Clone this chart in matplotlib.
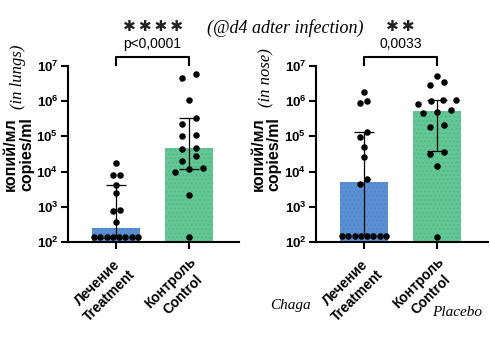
import matplotlib
matplotlib.use("Agg")
import matplotlib.pyplot as plt
import numpy as np

# ---- data (copies/ml) ----
groups = ["Лечение\nTreatment", "Контроль\nControl"]

lung_treatment = [1.8e4, 8.3e3, 8.3e3, 4.2e3, 2.5e3, 820, 770, 380,
                  140, 140, 140, 140, 140, 140, 140, 140]
lung_control = [5.8e6, 4.4e6, 1.07e6, 3.2e5, 2.3e5, 1.1e5, 1.0e5, 4.8e4,
                4.3e4, 2.8e4, 2.0e4, 1.3e4, 1.2e4, 1.0e4, 2.2e3, 140]
lung_bar = [250, 4.6e4]
lung_err_low = [140, 1.2e4]
lung_err_high = [4.2e3, 3.2e5]

nose_treatment = [1.8e6, 1.0e6, 8.9e5, 1.3e5, 9.8e4, 5.1e4, 2.6e4, 6.0e3, 4.4e3,
                  150, 150, 150, 150, 150, 150, 150, 150]
nose_control = [5.2e6, 3.4e6, 2.8e6, 1.1e6, 1.07e6, 1.0e6, 8.5e5, 5.5e5,
                5.0e5, 4.5e5, 2.1e5, 1.8e5, 3.6e4, 3.1e4, 1.45e4, 145]
nose_bar = [5.0e3, 5.2e5]
nose_err_low = [150, 3.8e4]
nose_err_high = [1.3e5, 1.07e6]

p_labels = ["p<0,0001", "0,0033"]
stars = ["\u2009".join("✱" * 4), "\u2009".join("✱" * 2)]
site_notes = ["(in lungs)", "(in nose)"]

BLUE = "#5b8fd3"
GREEN = "#62c794"
HAND = {"family": "Liberation Serif", "style": "italic"}

plt.rcParams["font.family"] = ["Liberation Sans", "DejaVu Sans"]
plt.rcParams["font.weight"] = "bold"
plt.rcParams["hatch.linewidth"] = 0.6


def swarm_x(ax, values, center, step_px, span_px=50, diam_px=6.5):
    """Spread points that sit on the same row sideways, GraphPad style."""
    values = np.asarray(values, dtype=float)
    pts = np.column_stack([np.full(len(values), center), values])
    ypx = ax.transData.transform(pts)[:, 1]
    px_per_unit = ax.transData.transform([(1, 1)])[0, 0] - ax.transData.transform([(0, 1)])[0, 0]
    rows = []
    for i in np.argsort(ypx, kind="stable"):
        if rows and ypx[i] - ypx[rows[-1][0]] < diam_px:
            rows[-1].append(i)
        else:
            rows.append([i])
    xs = np.full(len(values), float(center))
    for row in rows:
        n = len(row)
        step = min(step_px, span_px / n)
        for k, i in enumerate(row):
            xs[i] += (k - (n - 1) / 2) * step / px_per_unit
    return xs


fig = plt.figure(figsize=(4.9, 3.39), dpi=100)

panels = [
    dict(rect=[68 / 490, 96.7 / 339, 171 / 490, 176.6 / 339], xlim=(-0.658, 1.685),
         points=[lung_treatment, lung_control], bar=lung_bar,
         low=lung_err_low, high=lung_err_high),
    dict(rect=[316 / 490, 96.7 / 339, 172 / 490, 176.6 / 339], xlim=(-0.658, 1.70),
         points=[nose_treatment, nose_control], bar=nose_bar,
         low=nose_err_low, high=nose_err_high),
]

x = np.arange(len(groups))
for idx, p in enumerate(panels):
    ax = fig.add_axes(p["rect"])
    ax.set_yscale("log")
    ax.set_ylim(1e2, 1e7)
    ax.set_xlim(*p["xlim"])

    ax.bar(x, p["bar"], width=0.66, bottom=0, color=[BLUE, GREEN],
           edgecolor="none", zorder=1)
    ax.bar(x, p["bar"], width=0.66, facecolor="none",
           edgecolor=["#4f80c2", "#4fb383"], hatch="....", linewidth=0, zorder=1.5)

    bar = np.asarray(p["bar"])
    yerr = [bar - np.asarray(p["low"]), np.asarray(p["high"]) - bar]
    ax.errorbar(x, bar, yerr=yerr, fmt="none", ecolor="black", elinewidth=0.9,
                capsize=7.5, capthick=0.9, zorder=2)

    for gi, vals in enumerate(p["points"]):
        xs = swarm_x(ax, vals, x[gi], step_px=7 if gi == 0 else 14)
        ax.scatter(xs, vals, s=22, color="black", zorder=3, clip_on=False,
                   linewidths=0)

    for side in ("top", "right"):
        ax.spines[side].set_visible(False)
    for side in ("left", "bottom"):
        ax.spines[side].set_linewidth(1.5)
    ax.minorticks_off()
    ax.set_yticks([1e2, 1e3, 1e4, 1e5, 1e6, 1e7])
    ax.tick_params(axis="both", width=1.5, length=5)
    ax.tick_params(axis="y", pad=2, labelsize=9.5)
    ax.set_xticks(x)
    ax.set_xticklabels(groups, rotation=45, ha="right", rotation_mode="anchor",
                       multialignment="center", fontsize=10, linespacing=1.3)
    ax.tick_params(axis="x", pad=4)
    for lab in ax.get_yticklabels():
        lab.set_fontweight("bold")

    ax.text(-0.29, 0.5, "копий/мл\ncopies/ml", transform=ax.transAxes, rotation=90,
            ha="center", va="center", multialignment="center", fontsize=11.5,
            linespacing=1.1)
    ax.text(-0.29, 0.935, site_notes[idx], transform=ax.transAxes, rotation=90,
            ha="center", va="center", fontsize=12, fontdict=HAND, fontweight="normal")

    # significance bracket
    trans = ax.get_xaxis_transform()
    ax.plot([0, 0, 1, 1], [1.004, 1.049, 1.049, 1.004], color="black", lw=1.5,
            transform=trans, clip_on=False)
    ax.text(0.5, 1.123, p_labels[idx], transform=trans, ha="center", va="center",
            fontsize=10, fontweight="normal")
    ax.text(0.5, 1.22, stars[idx], transform=trans, ha="center", va="center",
            fontsize=11, family="DejaVu Sans", color="#222222")

fig.text(285 / 490, 1 - 28 / 339, "(@d4 adter infection)", ha="center", va="center",
         fontsize=13, fontdict=HAND, fontweight="normal")
fig.text(290 / 490, 1 - 305 / 339, "Chaga", ha="center", va="center",
         fontsize=11, fontdict=HAND, fontweight="normal")
fig.text(457 / 490, 1 - 312 / 339, "Placebo", ha="center", va="center",
         fontsize=11, fontdict=HAND, fontweight="normal")

fig.savefig("out.png", dpi=100)
